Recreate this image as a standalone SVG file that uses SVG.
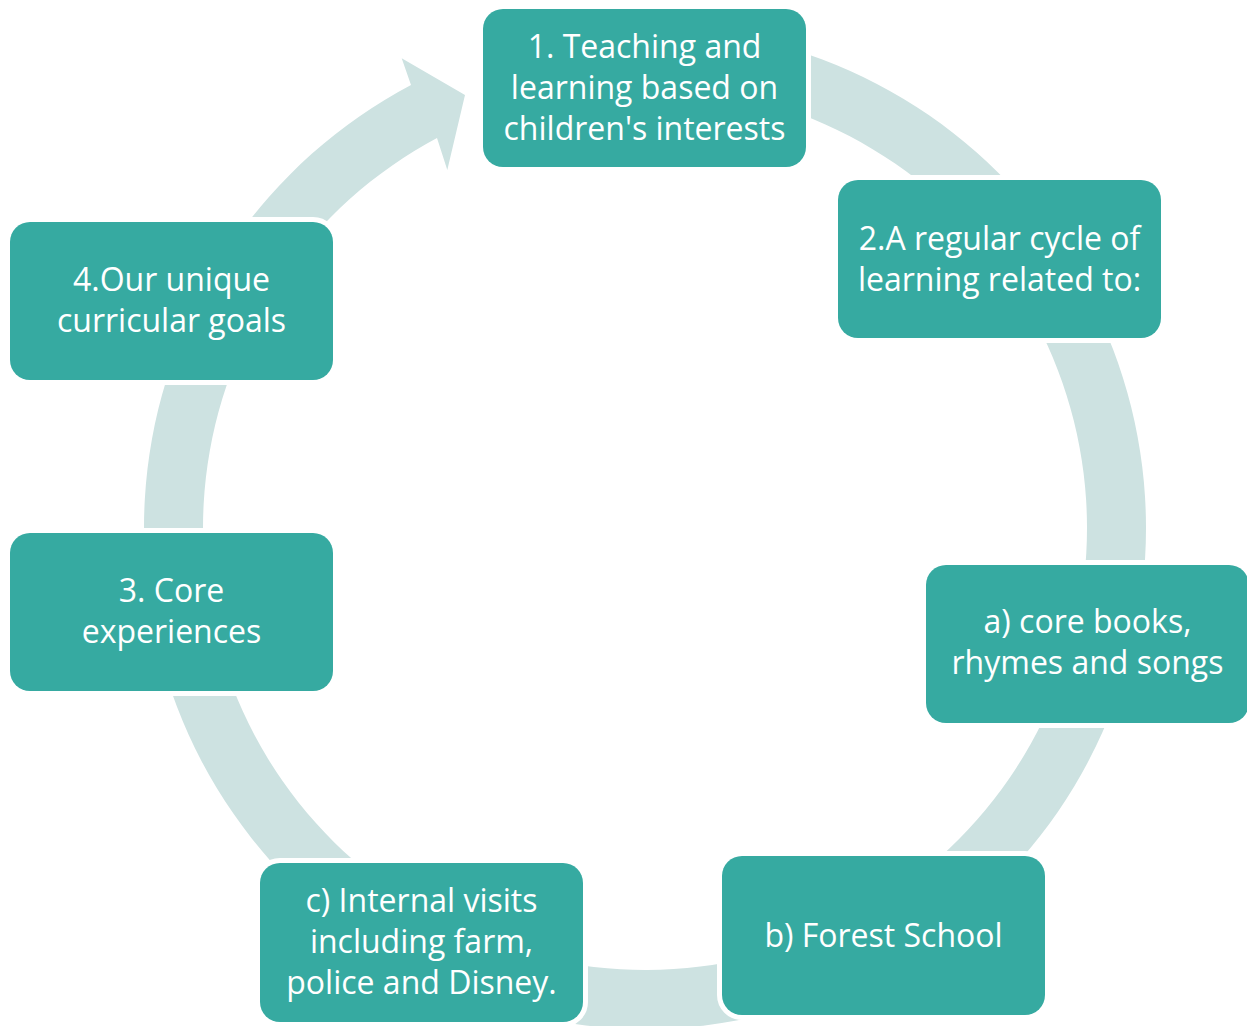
<svg xmlns="http://www.w3.org/2000/svg" width="1247" height="1026" viewBox="0 0 1247 1026">
  <style>
    .band { fill: #CDE2E1; }
    .box { fill: #36AAA1; stroke: #FFFFFF; stroke-width: 10; paint-order: stroke; }
    .lbl { font-family: "Open Sans", "Noto Sans", "DejaVu Sans", sans-serif; font-size: 32px; fill: #FFFFFF; text-anchor: middle; }
  </style>
  <rect width="1247" height="1026" fill="#FFFFFF"/>

  <!-- continuous cycle ring, clockwise, ending in an arrowhead before step 1 -->
  <g id="connectors">
    <path class="band" d="M644,27 A501,501 0 1 1 411,85 L401.7,58.3 L465,95 L447.3,170 L437,138 A442,442 0 1 0 644,86 Z"/>
  </g>

  <g id="node-1">
    <rect class="box" x="483" y="9" width="323" height="158" rx="20"/>
    <text class="lbl" x="644.5" y="58">1. Teaching and</text>
    <text class="lbl" x="644.5" y="99">learning based on</text>
    <text class="lbl" x="644.5" y="140">children's interests</text>
  </g>

  <g id="node-2">
    <rect class="box" x="838" y="180" width="323" height="158" rx="20"/>
    <text class="lbl" x="999.5" y="250">2.A regular cycle of</text>
    <text class="lbl" x="999.5" y="291">learning related to:</text>
  </g>

  <g id="node-a">
    <rect class="box" x="926" y="565" width="323" height="158" rx="20"/>
    <text class="lbl" x="1087.5" y="633">a) core books,</text>
    <text class="lbl" x="1087.5" y="674">rhymes and songs</text>
  </g>

  <g id="node-b">
    <rect class="box" x="722" y="856" width="323" height="159" rx="20"/>
    <text class="lbl" x="883.5" y="947">b) Forest School</text>
  </g>

  <g id="node-c">
    <rect class="box" x="260" y="863" width="323" height="159" rx="20"/>
    <text class="lbl" x="421.5" y="912">c) Internal visits</text>
    <text class="lbl" x="421.5" y="953">including farm,</text>
    <text class="lbl" x="421.5" y="994">police and Disney.</text>
  </g>

  <g id="node-3">
    <rect class="box" x="10" y="533" width="323" height="158" rx="20"/>
    <text class="lbl" x="171.5" y="602">3. Core</text>
    <text class="lbl" x="171.5" y="643">experiences</text>
  </g>

  <g id="node-4">
    <rect class="box" x="10" y="222" width="323" height="158" rx="20"/>
    <text class="lbl" x="171.5" y="291">4.Our unique</text>
    <text class="lbl" x="171.5" y="332">curricular goals</text>
  </g>
</svg>
